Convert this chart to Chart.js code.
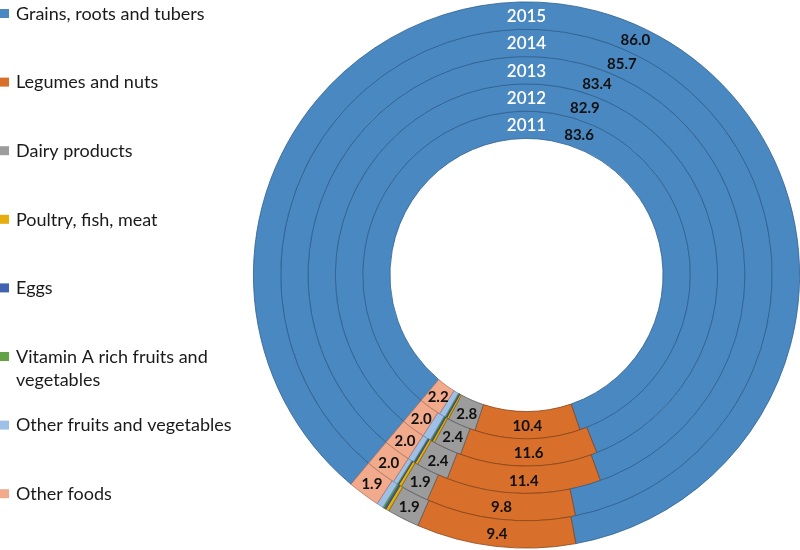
<!DOCTYPE html>
<html>
<head>
<meta charset="utf-8">
<script src="https://cdn.jsdelivr.net/npm/chart.js@4.4.0/dist/chart.umd.min.js"></script>
<style>
  html, body { margin: 0; padding: 0; background: #fff; }
  #wrap { width: 800px; height: 550px; }
</style>
</head>
<body>
<div id="wrap"><canvas id="myChart" width="800" height="550"></canvas></div>
<script>
const ctx = document.getElementById('myChart');

// categories (legend order)
const categorias = [
    'Grains, roots and tubers',
    'Legumes and nuts',
    'Dairy products',
    'Poultry, fish, meat',
    'Eggs',
    'Vitamin A rich fruits and vegetables',
    'Other fruits and vegetables',
    'Other foods'
];

// years, inner ring first
const anios = ['2011', '2012', '2013', '2014', '2015'];

// values per year (% share)
const v2011 = [83.6, 10.4, 2.8, 0.2, 0.1, 0.1, 0.6, 2.2];
const v2012 = [82.9, 11.6, 2.4, 0.2, 0.1, 0.1, 0.7, 2.0];
const v2013 = [83.4, 11.4, 2.4, 0.2, 0.1, 0.05, 0.45, 2.0];
const v2014 = [85.7, 9.8, 1.9, 0.2, 0.05, 0.05, 0.3, 2.0];
const v2015 = [86.0, 9.4, 1.9, 0.2, 0.1, 0.1, 0.4, 1.9];

const colores = ['#4a88c2', '#d8702c', '#9c9c9c', '#e6ad0c', '#3f63b0', '#64a343', '#9ec0e6', '#f2aa8d'];
const bordes = ['#2f5f8e', '#8a4418', '#5e5e5e', '#8a6a08', '#26407a', '#3d6a28', '#6a8db5', '#b07560'];

// which categories get a value label
const conEtiqueta = [0, 1, 2, 7];

const valoresPorAnio = [v2011, v2012, v2013, v2014, v2015];

// Chart.js draws dataset 0 outermost, so reverse
const datasets = valoresPorAnio.map((vals, i) => ({
    label: anios[i],
    data: vals,
    backgroundColor: colores,
    borderColor: bordes,
    borderWidth: 0.8
})).reverse();

// year names + value labels
const etiquetas = {
    id: 'etiquetas',
    afterDatasetsDraw(chart) {
        const c = chart.ctx;
        c.save();
        c.textAlign = 'center';
        c.textBaseline = 'middle';
        chart.data.datasets.forEach((ds, di) => {
            const meta = chart.getDatasetMeta(di);
            meta.data.forEach((arc, j) => {
                if (!conEtiqueta.includes(j)) return;
                const p = arc.getProps(['x', 'y', 'startAngle', 'endAngle', 'innerRadius', 'outerRadius']);
                let ang = (p.startAngle + p.endAngle) / 2;
                if (j === 0) ang += 10 * Math.PI / 180;
                const r = (p.innerRadius + p.outerRadius) / 2;
                c.font = 'bold 15px Lato, "Open Sans", sans-serif';
                c.fillStyle = '#111';
                c.fillText(ds.data[j].toFixed(1), p.x + Math.cos(ang) * r, p.y + Math.sin(ang) * r + 1);
            });
            const a0 = meta.data[0];
            const r0 = (a0.innerRadius + a0.outerRadius) / 2;
            c.font = '600 17px Lato, "Open Sans", sans-serif';
            c.fillStyle = '#fff';
            c.fillText(ds.label, a0.x, a0.y - r0 + 1);
        });
        c.restore();
    }
};

// legend on the left
const leyenda = {
    id: 'leyenda',
    afterDraw(chart) {
        const c = chart.ctx;
        c.save();
        c.textAlign = 'left';
        c.textBaseline = 'middle';
        c.font = '18px Lato, "Open Sans", sans-serif';
        categorias.forEach((txt, i) => {
            const y = 14 + i * 68.6;
            c.fillStyle = colores[i];
            c.fillRect(0, y - 5, 9, 9);
            c.fillStyle = '#1a1a1a';
            if (i === 5) {
                c.fillText('Vitamin A rich fruits and', 16, y);
                c.fillText('vegetables', 16, y + 23);
            } else {
                c.fillText(txt, 16, y);
            }
        });
        c.restore();
    }
};

const myChart = new Chart(ctx, {
    type: 'doughnut',
    data: {
        labels: categorias,
        datasets
    },
    options: {
        responsive: false,
        animation: false,
        rotation: 220,
        cutout: '50%',
        layout: { padding: { left: 253, top: 0, right: 0, bottom: 0 } },
        plugins: {
            legend: { display: false },
            tooltip: { enabled: false }
        }
    },
    plugins: [etiquetas, leyenda]
});
</script>
</body>
</html>
